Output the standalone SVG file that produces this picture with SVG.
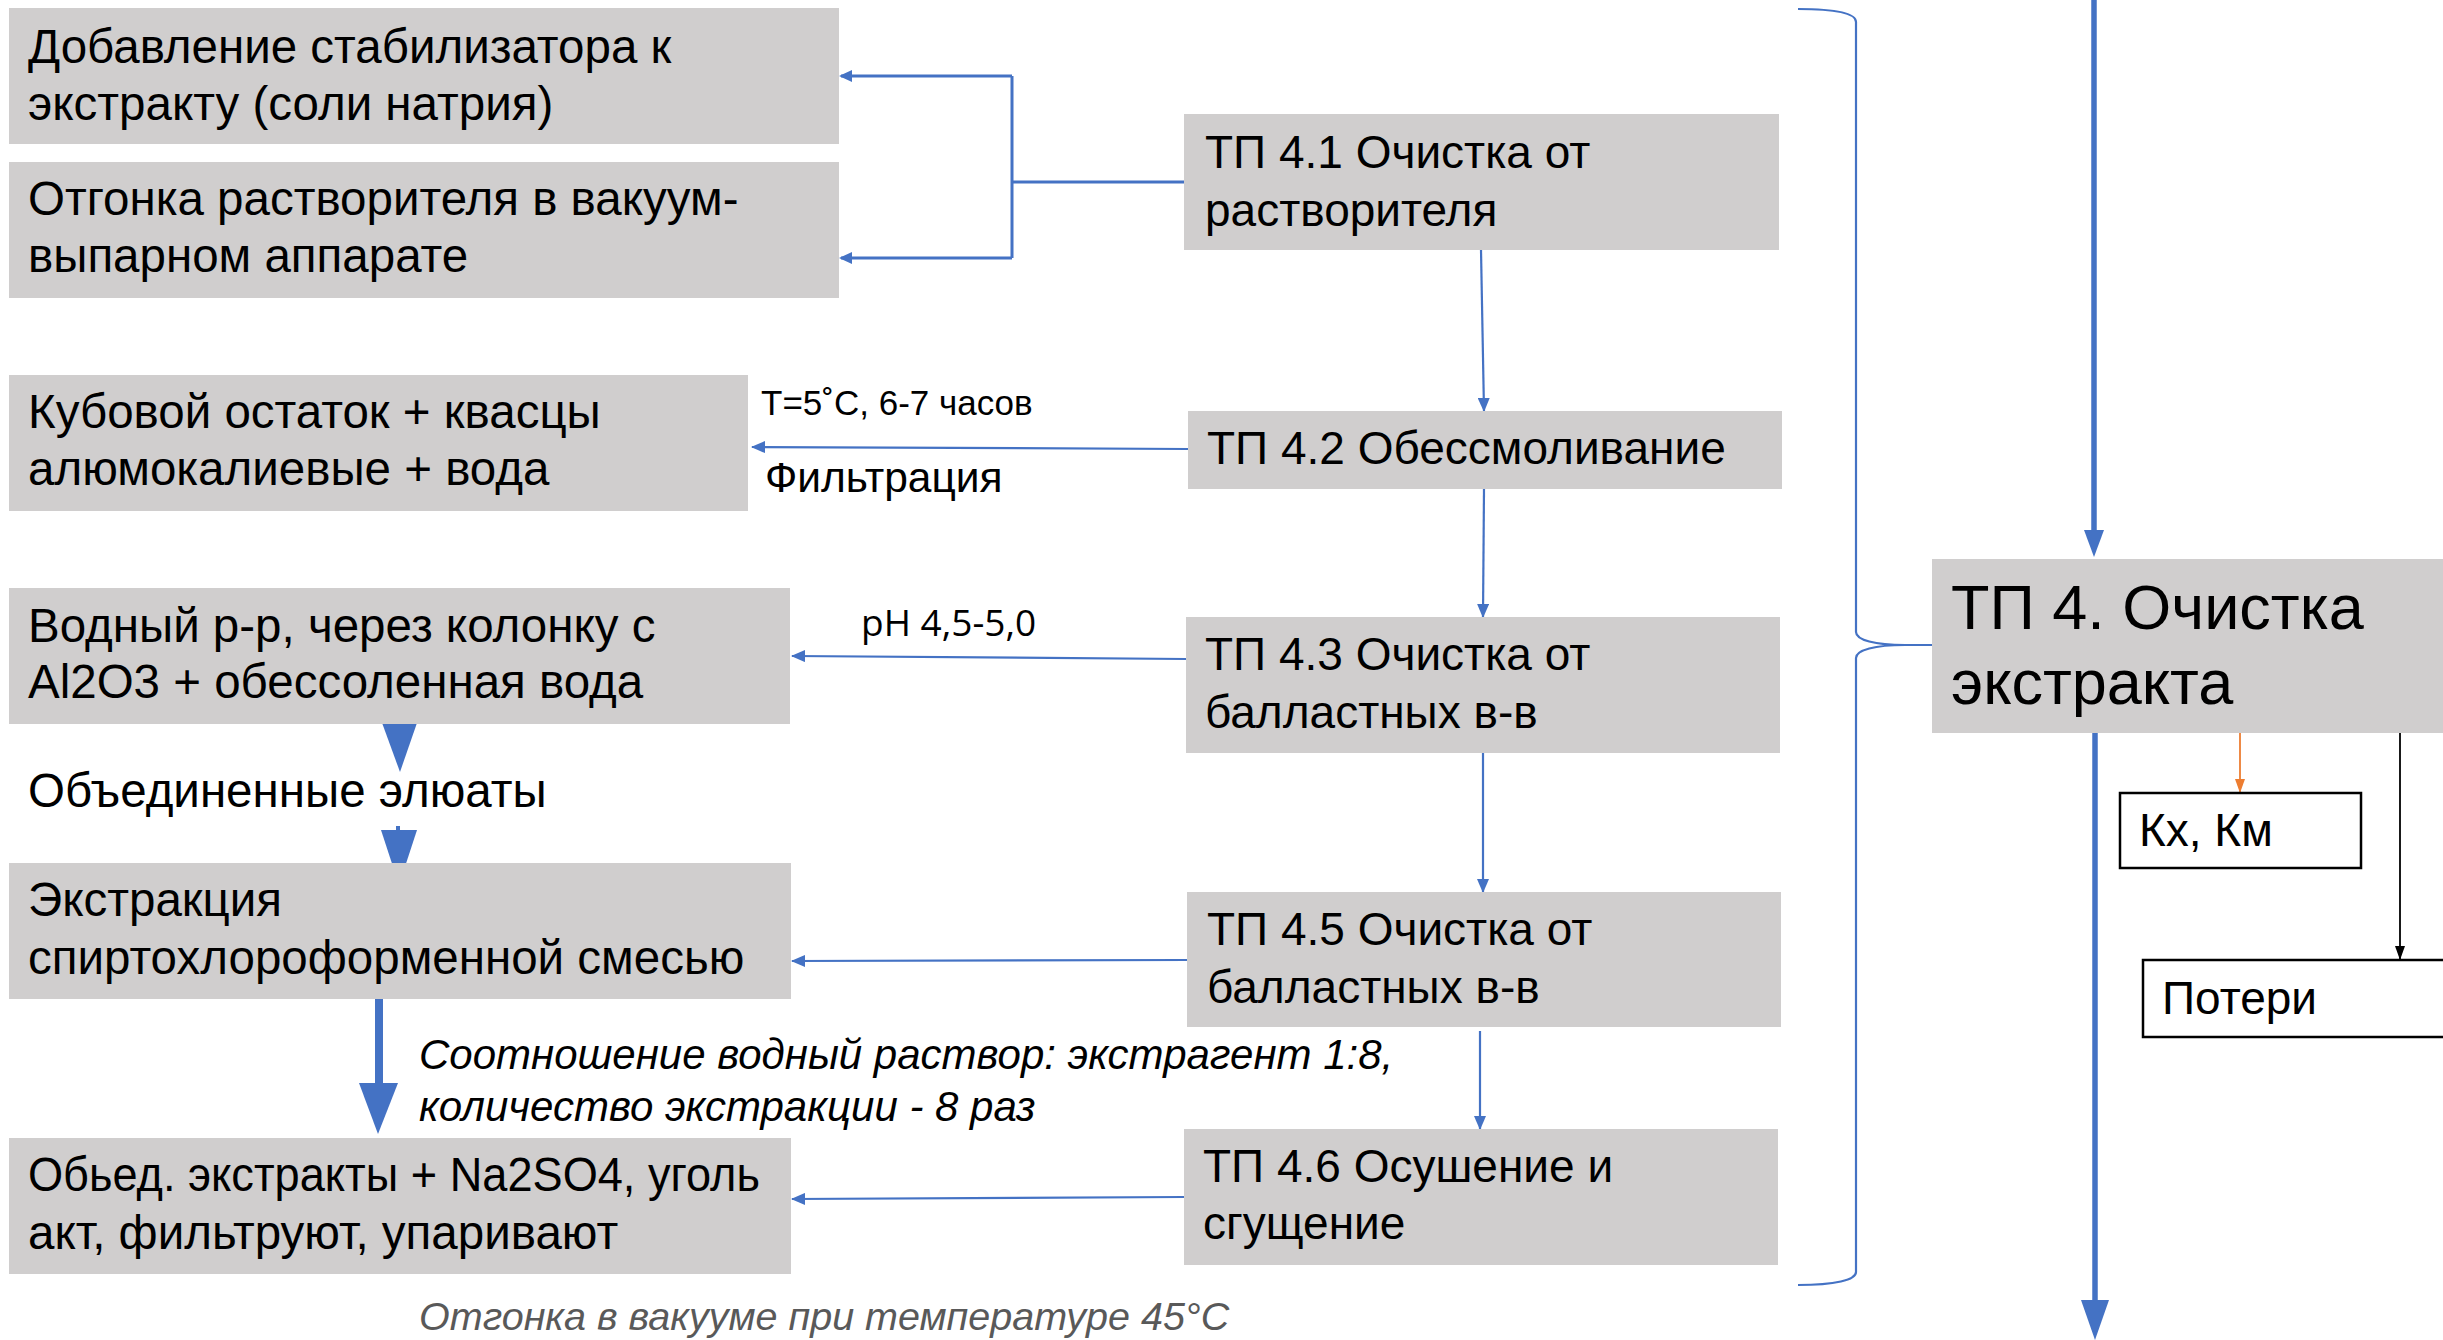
<svg xmlns="http://www.w3.org/2000/svg" width="2443" height="1340" viewBox="0 0 2443 1340">
<defs>
<style>
.box{fill:#D0CECE}
.t{font-family:"Liberation Sans",Arial,sans-serif;font-size:47.5px;fill:#000}
.tp{font-family:"Liberation Sans",Arial,sans-serif;font-size:46px;fill:#000}
.lbl{font-family:"Liberation Sans",Arial,sans-serif;font-size:35px;fill:#000}
.it{font-family:"Liberation Sans",Arial,sans-serif;font-style:italic;font-size:42px;fill:#000}
.gray{font-family:"Liberation Sans",Arial,sans-serif;font-style:italic;font-size:39.5px;fill:#595959}
.c{fill:none;stroke:#4472C4;stroke-width:2.2}
.c3{fill:none;stroke:#4472C4;stroke-width:3}
.big{fill:none;stroke:#4472C4;stroke-width:5.5}
.wb{fill:#fff;stroke:#000;stroke-width:2.5}
</style>
<marker id="ab" markerUnits="userSpaceOnUse" markerWidth="14" markerHeight="12" refX="13" refY="6" orient="auto">
<path d="M0,0 L14,6 L0,12 z" fill="#4472C4"/>
</marker>
<marker id="ak" markerUnits="userSpaceOnUse" markerWidth="14" markerHeight="12" refX="13" refY="6" orient="auto">
<path d="M0,1 L14,6 L0,11 z" fill="#000"/>
</marker>
<marker id="ao" markerUnits="userSpaceOnUse" markerWidth="14" markerHeight="12" refX="13" refY="6" orient="auto">
<path d="M0,1 L14,6 L0,11 z" fill="#ED7D31"/>
</marker>
</defs>
<rect width="2443" height="1340" fill="#fff"/>

<g id="connectors">
<path class="c3" d="M1184,182 H1012 M1012,76 V258 M1012,76 H841 M1012,258 H841" />
<path d="M839,76 l13,-6 v12 z M839,258 l13,-6 v12 z" fill="#4472C4"/>
<path class="c" d="M1481,250 L1484,411" marker-end="url(#ab)"/>
<path class="c" d="M1484,489 L1483,617" marker-end="url(#ab)"/>
<path class="c" d="M1483,753 L1483,892" marker-end="url(#ab)"/>
<path class="c" d="M1480,1031 L1480,1129" marker-end="url(#ab)"/>
<path class="c" d="M1188,449 L752,447" marker-end="url(#ab)"/>
<path class="c" d="M1186,659 L792,656" marker-end="url(#ab)"/>
<path class="c" d="M1187,960 L792,961" marker-end="url(#ab)"/>
<path class="c" d="M1184,1197 L792,1199" marker-end="url(#ab)"/>
<path class="c" d="M1798,9 C1835,9 1856,13 1856,22 L1856,632 C1856,640 1875,645 1905,645 L1932,645 M1905,645 C1875,645 1856,650 1856,658 L1856,1272 C1856,1280 1835,1285 1798,1285"/>
<path class="big" d="M2094,0 V532"/>
<path d="M2084,530 L2104,530 L2094,557 z" fill="#4472C4"/>
<path class="big" d="M2095,733 V1302"/>
<path d="M2081,1300 L2109,1300 L2095,1340 z" fill="#4472C4"/>
<path d="M2240,733 V792" fill="none" stroke="#ED7D31" stroke-width="1.8" marker-end="url(#ao)"/>
<path d="M2400,733 V959" fill="none" stroke="#000" stroke-width="1.8" marker-end="url(#ak)"/>
<path d="M381,720 L418,720 L400,772 z" fill="#4472C4"/>
<path d="M398,826 V832" stroke="#4472C4" stroke-width="4"/>
<path d="M381,830 L417,830 L399,885 z" fill="#4472C4"/>
<path d="M379,999 V1085" stroke="#4472C4" stroke-width="8"/>
<path d="M359,1083 L398,1083 L378,1134 z" fill="#4472C4"/>
</g>

<g id="n1"><rect class="box" x="9" y="8" width="830" height="136"/>
<text class="t" x="28" y="63">Добавление стабилизатора к</text>
<text class="t" x="28" y="120">экстракту (соли натрия)</text></g>

<g id="n2"><rect class="box" x="9" y="162" width="830" height="136"/>
<text class="t" x="28" y="215">Отгонка растворителя в вакуум-</text>
<text class="t" x="28" y="272">выпарном аппарате</text></g>

<g id="n3"><rect class="box" x="9" y="375" width="739" height="136"/>
<text class="t" x="28" y="428">Кубовой остаток + квасцы</text>
<text class="t" x="28" y="485">алюмокалиевые + вода</text></g>

<g id="n4"><rect class="box" x="9" y="588" width="781" height="136"/>
<text class="t" x="28" y="642">Водный р-р, через колонку с</text>
<text class="t" x="28" y="698">Al2O3 + обессоленная вода</text></g>

<g id="n5"><text class="t" x="28" y="807">Объединенные элюаты</text></g>

<g id="n6"><rect class="box" x="9" y="863" width="782" height="136"/>
<text class="t" x="28" y="916">Экстракция</text>
<text class="t" x="28" y="974">спиртохлороформенной смесью</text></g>

<g id="n7"><rect class="box" x="9" y="1138" width="782" height="136"/>
<text class="t" x="28" y="1191" textLength="732" lengthAdjust="spacingAndGlyphs">Обьед. экстракты + Na2SO4, уголь</text>
<text class="t" x="28" y="1249">акт, фильтруют, упаривают</text></g>

<g id="n8"><rect class="box" x="1184" y="114" width="595" height="136"/>
<text class="tp" x="1205" y="168">ТП 4.1 Очистка от</text>
<text class="tp" x="1205" y="226">растворителя</text></g>

<g id="n9"><rect class="box" x="1188" y="411" width="594" height="78"/>
<text class="tp" x="1207" y="464">ТП 4.2 Обессмоливание</text></g>

<g id="n10"><rect class="box" x="1186" y="617" width="594" height="136"/>
<text class="tp" x="1205" y="670">ТП 4.3 Очистка от</text>
<text class="tp" x="1205" y="728">балластных в-в</text></g>

<g id="n11"><rect class="box" x="1187" y="892" width="594" height="135"/>
<text class="tp" x="1207" y="945">ТП 4.5 Очистка от</text>
<text class="tp" x="1207" y="1003">балластных в-в</text></g>

<g id="n12"><rect class="box" x="1184" y="1129" width="594" height="136"/>
<text class="tp" x="1203" y="1182">ТП 4.6 Осушение и</text>
<text class="tp" x="1203" y="1239">сгущение</text></g>

<g id="n13"><rect class="box" x="1932" y="559" width="520" height="174"/>
<text x="1951" y="629" font-family="Liberation Sans, Arial, sans-serif" font-size="63">ТП 4. Очистка</text>
<text x="1951" y="704" font-family="Liberation Sans, Arial, sans-serif" font-size="63">экстракта</text></g>

<g id="n14"><rect class="wb" x="2120" y="793" width="241" height="75"/>
<text class="tp" x="2139" y="846">Кх, Км</text></g>

<g id="n15"><rect class="wb" x="2143" y="960" width="320" height="77"/>
<text class="tp" x="2162" y="1014">Потери</text></g>

<g id="labels">
<text class="lbl" x="761" y="415">T=5˚C, 6-7 часов</text>
<text class="t" x="765" y="492" style="font-size:42.5px">Фильтрация</text>
<text x="861" y="636" font-family="Open Sans, sans-serif" font-size="37">pH 4,5-5,0</text>
<text class="it" x="419" y="1069">Соотношение водный раствор: экстрагент 1:8,</text>
<text class="it" x="419" y="1121">количество экстракции - 8 раз</text>
<text class="gray" x="419" y="1330">Отгонка в вакууме при температуре 45°С</text>
</g>
</svg>
